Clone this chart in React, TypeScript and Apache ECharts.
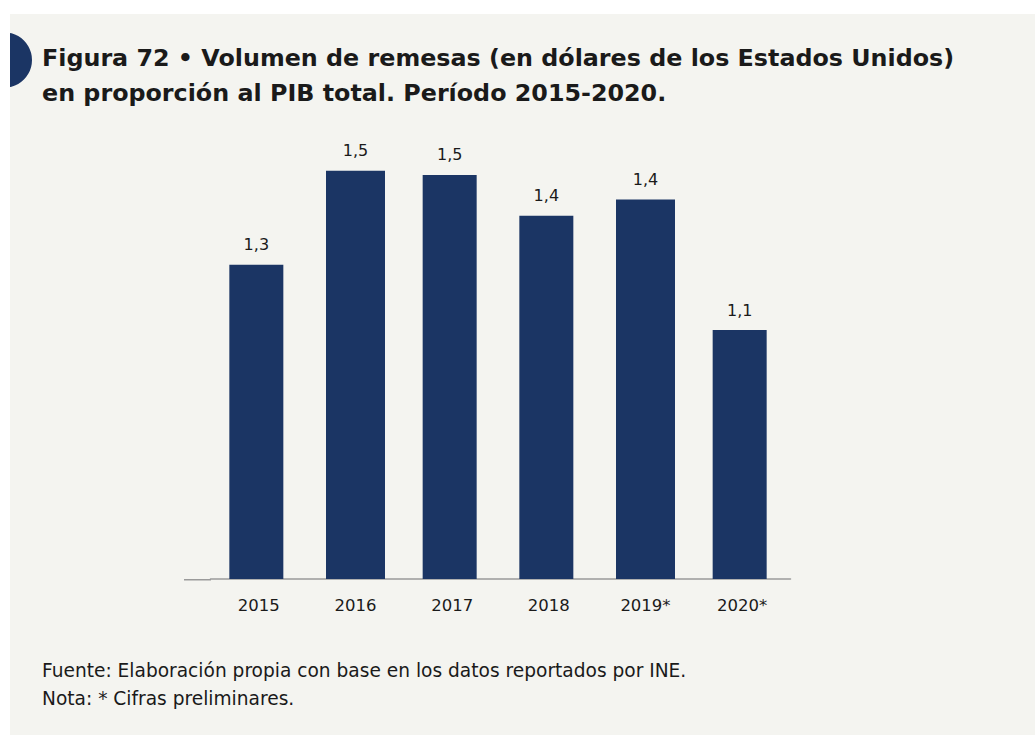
import React, { useEffect, useRef } from "react";
import * as echarts from "echarts";

const categories = ["2015", "2016", "2017", "2018", "2019*", "2020*"];
// Values (labels are rounded to one decimal)
const values = [1.27, 1.5, 1.49, 1.39, 1.43, 1.11];
// Which bars are drawn slightly wider in the reference
const wideBars = [false, true, false, false, true, false];

const titleLines = [
  "Figura 72 • Volumen de remesas (en dólares de los Estados Unidos)",
  "en proporción al PIB total. Período 2015-2020.",
];
const notes = [
  "Fuente: Elaboración propia con base en los datos reportados por INE.",
  "Nota: * Cifras preliminares.",
];

const BAR = "#1b3564";
const PANEL = "#f4f4f0";
const TEXT = "#1a1a1a";
const FONT = "DejaVu Sans";

const fmt = (v: number) => v.toFixed(1).replace(".", ",");

export default function App() {
  const ref = useRef<HTMLDivElement>(null);
  useEffect(() => {
    if (!ref.current) return;
    const chart = echarts.init(ref.current, undefined, { renderer: "svg" });
    const narrow = values.map((v, i) => (wideBars[i] ? "-" : v));
    const wide = values.map((v, i) => (wideBars[i] ? v : "-"));
    const label = {
      show: true,
      position: "top",
      distance: 12,
      color: TEXT,
      fontFamily: FONT,
      fontSize: 16,
      formatter: (p: any) => fmt(p.value),
    };
    chart.setOption({
      animation: false,
      backgroundColor: "#ffffff",
      grid: { left: 210.5, top: 130, width: 580, height: 449 },
      xAxis: {
        type: "category",
        data: categories,
        axisLine: { show: true, lineStyle: { color: "#9a9a9a", width: 1.5 } },
        axisTick: { show: false },
        axisLabel: { color: TEXT, fontFamily: FONT, fontSize: 16.5, margin: 18 },
      },
      yAxis: {
        type: "value",
        min: 0.5,
        max: 1.6,
        show: false,
      },
      series: [
        {
          type: "bar",
          data: narrow,
          barWidth: 54,
          barGap: "-100%",
          itemStyle: { color: BAR },
          label,
        },
        {
          type: "bar",
          data: wide,
          barWidth: 59,
          barGap: "-100%",
          itemStyle: { color: BAR },
          label,
        },
      ],
      graphic: [
        { type: "rect", z: -10, shape: { x: 10, y: 14, width: 1025, height: 721 }, style: { fill: PANEL } },
        { type: "circle", z: -5, shape: { cx: 4.4, cy: 60, r: 27.6 }, style: { fill: BAR } },
        { type: "rect", z: -4, shape: { x: 0, y: 0, width: 10, height: 735 }, style: { fill: "#ffffff" } },
        { type: "line", z: 5, shape: { x1: 184, y1: 579.75, x2: 211, y2: 579.75 }, style: { stroke: "#9a9a9a", lineWidth: 1.5 } },
        ...titleLines.map((t, i) => ({
          type: "text",
          left: 42,
          top: 46 + i * 35,
          style: { text: t, fill: TEXT, font: `bold 23.8px "${FONT}"` },
        })),
        ...notes.map((t, i) => ({
          type: "text",
          left: 42,
          top: 661 + i * 28,
          style: { text: t, fill: TEXT, font: `18.6px "${FONT}"` },
        })),
      ],
    });
    return () => chart.dispose();
  }, []);
  return (
    <div
      ref={ref}
      style={{ position: "absolute", left: 0, top: 0, width: 1035, height: 735 }}
    />
  );
}
